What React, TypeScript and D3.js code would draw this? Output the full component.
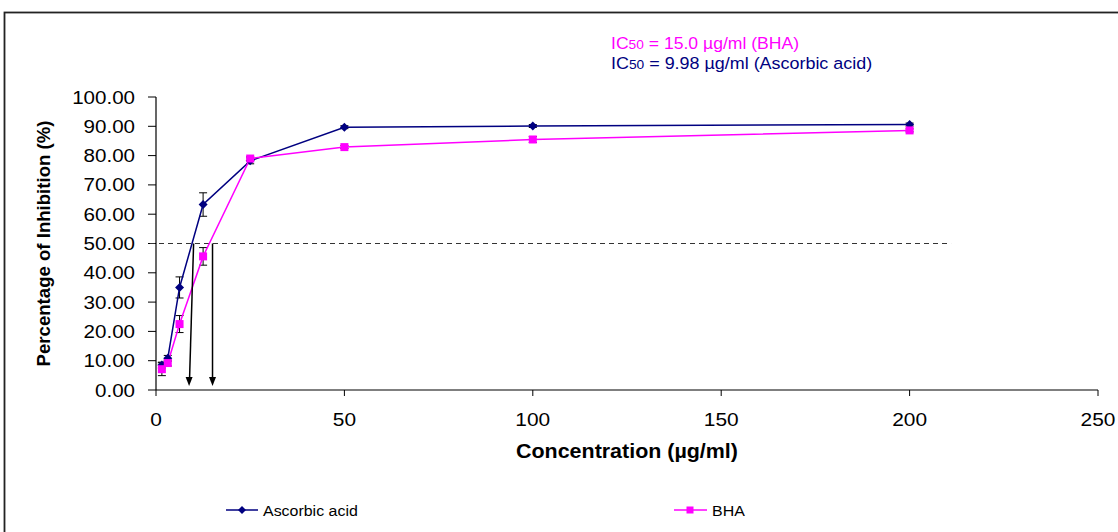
import React from "react";
import * as d3 from "d3";

const concentrations = [1.5625, 3.125, 6.25, 12.5, 25, 50, 100, 200];
const ascorbicValues = [8.5, 10.8, 35.0, 63.3, 78.2, 89.7, 90.1, 90.6];
const ascorbicErrors = [1.0, 1.0, 3.6, 4.0, 1.0, 0.5, 0.5, 0.5];
const bhaValues = [7.1, 9.2, 22.5, 45.6, 79.0, 82.9, 85.5, 88.6];
const bhaErrors = [2.2, 1.0, 2.9, 3.0, 0.6, 0.5, 1.0, 0.5];
const yTicks = [0, 10, 20, 30, 40, 50, 60, 70, 80, 90, 100];
const xTicks = [0, 50, 100, 150, 200, 250];
const ic50Ascorbic = 9.98;
const ic50BHA = 15.0;
const thresholdLine = { value: 50, xEnd: 211 };

const NAVY = "#000080";
const MAGENTA = "#FF00FF";
const FONT = "Liberation Sans, Arial, sans-serif";
const SX = 1.1;

function SText(props: {
  x: number;
  y: number;
  size: number;
  anchor?: string;
  fill?: string;
  bold?: boolean;
  children: React.ReactNode;
}) {
  return (
    <text
      transform={`translate(${props.x},${props.y}) scale(${SX},1)`}
      fontSize={props.size}
      textAnchor={props.anchor || "start"}
      fill={props.fill || "#000"}
      fontWeight={props.bold ? "bold" : "normal"}
    >
      {props.children}
    </text>
  );
}

export default function App() {
  const W = 1118, H = 532;
  const x = d3.scaleLinear().domain([0, 250]).range([156, 1098]);
  const y = d3.scaleLinear().domain([0, 100]).range([390, 97]);
  const line = d3.line<number>().x((_, i) => x(concentrations[i])).y((d) => y(d));

  const diamond = (cx: number, cy: number, r: number) =>
    `M${cx},${cy - r}L${cx + r},${cy}L${cx},${cy + r}L${cx - r},${cy}Z`;

  const errBars = (vals: number[], errs: number[], key: string) =>
    vals.map((v, i) => {
      const cx = x(concentrations[i]);
      const y1 = y(v + errs[i]);
      const y2 = y(v - errs[i]);
      return (
        <g key={key + i} stroke="#000" strokeWidth={1}>
          <line x1={cx} x2={cx} y1={y1} y2={y2} />
          <line x1={cx - 4} x2={cx + 4} y1={y1} y2={y1} />
          <line x1={cx - 4} x2={cx + 4} y1={y2} y2={y2} />
        </g>
      );
    });

  return (
    <svg width={W} height={H} style={{ position: "absolute", left: 0, top: 0 }} fontFamily={FONT}>
      <rect x={0} y={0} width={W} height={H} fill="#fff" />
      <rect x={4.5} y={12.5} width={1200} height={600} fill="none" stroke="#222" strokeWidth={1.8} />

      {/* Annotation */}
      <SText x={611} y={49} size={16} fill={MAGENTA}>
        IC<tspan fontSize={12.5}>50</tspan> = 15.0 µg/ml (BHA)
      </SText>
      <SText x={611} y={69} size={16.3} fill={NAVY}>
        IC<tspan fontSize={12.5}>50</tspan> = 9.98 µg/ml (Ascorbic acid)
      </SText>

      {/* Y axis */}
      <line x1={156} x2={156} y1={y(100)} y2={y(0)} stroke="#000" strokeWidth={1.2} />
      {yTicks.map((t) => (
        <g key={"yt" + t}>
          <line x1={148} x2={156} y1={y(t)} y2={y(t)} stroke="#000" />
          <SText x={135} y={y(t) + 6.5} size={18.7} anchor="end">
            {t.toFixed(2)}
          </SText>
        </g>
      ))}
      {/* X axis */}
      <line x1={x(0)} x2={x(250)} y1={390} y2={390} stroke="#000" strokeWidth={1.2} />
      {xTicks.map((t) => (
        <g key={"xt" + t}>
          <line x1={x(t)} x2={x(t)} y1={390} y2={396} stroke="#000" />
          <SText x={x(t)} y={426} size={19} anchor="middle">
            {t}
          </SText>
        </g>
      ))}
      <SText x={627} y={458} size={19.5} anchor="middle" bold>
        Concentration (µg/ml)
      </SText>
      <text
        transform={`translate(50,${y(50)}) rotate(-90)`}
        textAnchor="middle"
        fontSize={18.6}
        fontWeight="bold"
      >
        Percentage of Inhibition (%)
      </text>

      {/* Threshold dashed line */}
      <line
        x1={150}
        x2={x(thresholdLine.xEnd)}
        y1={y(thresholdLine.value)}
        y2={y(thresholdLine.value)}
        stroke="#333"
        strokeWidth={1.2}
        strokeDasharray="5,4"
      />

      {/* Error bars */}
      {errBars(ascorbicValues, ascorbicErrors, "ea")}
      {errBars(bhaValues, bhaErrors, "eb")}

      {/* Lines */}
      <path d={line(ascorbicValues) || ""} fill="none" stroke={NAVY} strokeWidth={1.5} />
      <path d={line(bhaValues) || ""} fill="none" stroke={MAGENTA} strokeWidth={1.5} />

      {/* Markers */}
      {ascorbicValues.map((v, i) => (
        <path key={"ma" + i} d={diamond(x(concentrations[i]), y(v), 4.5)} fill={NAVY} />
      ))}
      {bhaValues.map((v, i) => (
        <rect
          key={"mb" + i}
          x={x(concentrations[i]) - 4}
          y={y(v) - 4}
          width={8}
          height={8}
          fill={MAGENTA}
        />
      ))}

      {/* IC50 arrows */}
      <line x1={x(ic50Ascorbic)} x2={x(ic50Ascorbic) - 4} y1={y(50)} y2={377} stroke="#000" strokeWidth={1.5} />
      <path d={`M${x(ic50Ascorbic) - 8},377L${x(ic50Ascorbic) - 1},377L${x(ic50Ascorbic) - 4.5},386Z`} fill="#000" />
      <line x1={x(ic50BHA)} x2={x(ic50BHA)} y1={y(50)} y2={377} stroke="#000" strokeWidth={1.5} />
      <path d={`M${x(ic50BHA) - 3.5},377L${x(ic50BHA) + 3.5},377L${x(ic50BHA)},386Z`} fill="#000" />

      {/* Legend */}
      <line x1={226} x2={258} y1={510} y2={510} stroke={NAVY} strokeWidth={1.5} />
      <path d={diamond(242, 510, 4)} fill={NAVY} />
      <SText x={263} y={515.5} size={14.5}>Ascorbic acid</SText>
      <line x1={674} x2={707} y1={510} y2={510} stroke={MAGENTA} strokeWidth={1.5} />
      <rect x={686.5} y={506.5} width={7} height={7} fill={MAGENTA} />
      <SText x={712} y={515.5} size={14.5}>BHA</SText>
    </svg>
  );
}
